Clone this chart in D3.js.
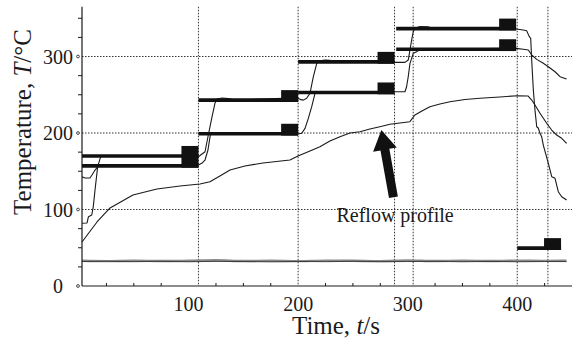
<!DOCTYPE html>
<html>
<head>
<meta charset="utf-8">
<script src="https://cdn.jsdelivr.net/npm/d3@7"></script>
<style>
  html, body { margin: 0; padding: 0; background: #fff; }
  svg { display: block; font-family: "Liberation Serif", "Times New Roman", serif; }
</style>
</head>
<body>
<div id="chart"></div>
<script>
// axis ticks and grid
const timeTicks = [100, 200, 300, 400];
const tempTicks = [0, 100, 200, 300];
const gridTimes = [109, 200, 288, 305, 400, 428];
const gridTemps = [100, 200, 300];

// set-point bars: start time, end time, temperature
const setStart = [2.7, 2.7, 109, 109, 200, 200, 289.5, 289.5, 400];
const setEnd   = [109, 109, 200, 200, 288, 288, 399, 399, 440];
const setTemp  = [170, 157, 243, 199, 293, 253, 336.5, 309.5, 49.5];

// sample that follows the upper set points [t, T]
const upperSample = [
  [2.7, 82], [7.3, 82.4], [8.6, 90.6], [11.6, 92.8], [13, 103.7], [14.6, 125.5], [17, 156],
  [20, 170], [60, 170], [108.9, 169], [115, 175.5], [118, 197.4], [121.1, 219], [124.1, 239],
  [126, 244.4], [130.5, 245.8], [136, 245], [142.4, 243.1], [199.6, 246], [201.7, 244],
  [204.7, 243], [207.8, 245.4], [210.8, 251.9], [213.9, 273.6], [217, 291], [220, 294.5],
  [224.5, 295.4], [229, 295], [233.6, 292.8], [287.5, 292.4], [297.5, 292.4], [300.5, 295.4],
  [302.1, 308.5], [303.6, 321.6], [305.1, 332.4], [306.6, 336.8], [311.2, 339.2], [318.5, 339],
  [323.1, 336.8], [398.9, 336], [405.5, 334.6], [408.6, 333.7], [411, 326], [412.3, 323.8],
  [413.2, 295.4], [414.7, 256.2], [416.2, 230], [417.8, 208.2], [419.2, 206.5], [420.8, 199.6],
  [422.3, 195.2], [423.8, 184.3], [428.4, 160.4], [431.5, 142.9], [434.5, 140.8], [437.5, 123.3],
  [440.6, 116.7], [445.1, 112.4]
];

// sample that follows the lower set points [t, T]
const lowerSample = [
  [2.7, 142.9], [5.4, 141.2], [10, 141.2], [11.8, 145.1], [14.6, 151.6], [17.6, 156.9],
  [108.9, 158.2], [112, 160.4], [115, 164.7], [117.7, 177.8], [119.1, 190.8], [120, 198.7],
  [199.6, 198.7], [203.3, 199.6], [206.3, 206.1], [209.3, 219.2], [212.4, 234.4], [215.4, 251.9],
  [217.2, 253.6], [289.3, 254], [297.5, 254], [299, 260.5], [300.5, 273.6], [302.1, 291.1],
  [305.1, 304.2], [308.2, 306.3], [311.2, 309.4], [398.9, 310.7], [405.5, 309.4], [410.1, 308.5],
  [413.2, 302], [417.8, 296.3], [423.8, 291.1], [428.4, 286.7], [434.5, 280.1], [439.1, 273.6],
  [445.1, 270.6]
];

// reflow profile [t, T]
const reflowProfile = [
  [2.7, 57.5], [16.4, 83.7], [28.3, 102], [49.2, 119], [71.1, 126.8], [92.2, 130.7],
  [110.4, 133.3], [119.5, 136.3], [128.6, 143.8], [137.8, 151.6], [151.4, 156.9], [167.9, 160.8],
  [192.5, 164.7], [199.9, 169.9], [210.8, 176.5], [219.9, 182.1], [229, 189.5], [238.2, 195.2],
  [247.3, 200], [256.4, 201.7], [265.5, 205.2], [274.6, 208.2], [283.8, 211.4], [292.9, 213.1],
  [302, 214.8], [306.6, 223.5], [313, 228.8], [320.3, 234.4], [329.4, 237.9], [338.6, 240.9],
  [352.3, 243.8], [366, 245.4], [384.2, 247.1], [399.8, 248.8], [409.8, 248.4], [413.2, 243.1],
  [416.2, 236.6], [420.8, 225.8], [426.9, 212.7], [431.4, 203.9], [436, 197.4], [440.6, 193.1],
  [445.1, 186.5]
];

// ambient readings
const ambientTimes = [2.7, 25, 50, 75, 100, 125, 150, 175, 200, 225, 250, 275, 300, 325, 350, 375, 400, 425, 445];
const ambientA = [33, 32.5, 33, 32.6, 33, 33.6, 32.6, 33, 32.5, 33.2, 33, 32.5, 33.4, 32.6, 33, 32.6, 33.2, 32.8, 33];
const ambientB = [32, 32.3, 31.8, 32.2, 31.7, 32.2, 32, 31.6, 32.1, 31.8, 32.3, 31.8, 32, 32.2, 31.7, 32.1, 31.7, 32, 31.9];

// annotation
const arrowTail = [287, 116];
const arrowTip = [276, 204];
const annotationAt = [235, 84];

const width = 573, height = 340;

const svg = d3.select("#chart")
  .append("svg")
  .attr("width", width)
  .attr("height", height);

const x = d3.scaleLinear().domain([2.7, 450]).range([82, 572]);
const y = d3.scaleLinear().domain([0, 365]).range([286, 6.8]);

const ink = "#1a1a1a";

// dotted grid
svg.append("g")
  .selectAll("line")
  .data(gridTemps)
  .join("line")
  .attr("x1", x(2.7)).attr("x2", x(450))
  .attr("y1", d => y(d)).attr("y2", d => y(d))
  .attr("stroke", "#333").attr("stroke-width", 1).attr("stroke-dasharray", "1.5,1.5");

svg.append("g")
  .selectAll("line")
  .data(gridTimes)
  .join("line")
  .attr("x1", d => x(d)).attr("x2", d => x(d))
  .attr("y1", y(365)).attr("y2", y(0))
  .attr("stroke", "#333").attr("stroke-width", 1).attr("stroke-dasharray", "1.5,1.5");

const line = d3.line().x(d => x(d[0])).y(d => y(d[1]));

// ambient lines
const ambLine = d3.line().x((d, i) => x(ambientTimes[i])).y(d => y(d)).curve(d3.curveMonotoneX);
svg.append("path").attr("d", ambLine(ambientA))
  .attr("fill", "none").attr("stroke", "#8a8a8a").attr("stroke-width", 2.4);
svg.append("path").attr("d", ambLine(ambientB))
  .attr("fill", "none").attr("stroke", "#333").attr("stroke-width", 0.9);

// measured curves
[reflowProfile, lowerSample, upperSample].forEach(series => {
  svg.append("path")
    .attr("d", line(series))
    .attr("fill", "none")
    .attr("stroke", ink)
    .attr("stroke-width", 1.1)
    .attr("stroke-linejoin", "round");
});

// set-point bars with end blocks
const barIdx = d3.range(setTemp.length);
svg.append("g")
  .selectAll("line")
  .data(barIdx)
  .join("line")
  .attr("x1", i => x(setStart[i])).attr("x2", i => x(setEnd[i]))
  .attr("y1", i => y(setTemp[i])).attr("y2", i => y(setTemp[i]))
  .attr("stroke", "#111").attr("stroke-width", 3.6);

svg.append("g")
  .selectAll("rect")
  .data(barIdx)
  .join("rect")
  .attr("x", i => x(setEnd[i]) - 17)
  .attr("y", i => y(setTemp[i]) - 10)
  .attr("width", 17)
  .attr("height", 11.8)
  .attr("fill", "#111");

// axes
svg.append("line")
  .attr("x1", x(2.7)).attr("x2", x(2.7)).attr("y1", y(365)).attr("y2", y(0))
  .attr("stroke", ink).attr("stroke-width", 1.2);
svg.append("line")
  .attr("x1", x(2.7)).attr("x2", x(450)).attr("y1", y(0)).attr("y2", y(0))
  .attr("stroke", ink).attr("stroke-width", 1.2);

svg.append("g")
  .selectAll("line")
  .data(d3.range(25, 365, 25).filter(v => v % 100 !== 0))
  .join("line")
  .attr("x1", x(2.7) - 4).attr("x2", x(2.7))
  .attr("y1", d => y(d)).attr("y2", d => y(d))
  .attr("stroke", ink).attr("stroke-width", 1);

svg.append("g")
  .selectAll("circle")
  .data(tempTicks)
  .join("circle")
  .attr("cx", x(2.7) - 4).attr("cy", d => y(d)).attr("r", 1.4)
  .attr("fill", "#fff").attr("stroke", ink).attr("stroke-width", 0.8);

svg.append("g")
  .selectAll("line")
  .data(d3.range(25, 450, 25).filter(v => v % 100 !== 0))
  .join("line")
  .attr("x1", d => x(d)).attr("x2", d => x(d))
  .attr("y1", y(0)).attr("y2", y(0) - 3)
  .attr("stroke", ink).attr("stroke-width", 1);

svg.append("g")
  .selectAll("text")
  .data(tempTicks)
  .join("text")
  .attr("x", 58).attr("y", d => y(d) + 7)
  .attr("text-anchor", "middle")
  .attr("font-size", 20)
  .attr("fill", ink)
  .text(d => d);

svg.append("g")
  .selectAll("text")
  .data(timeTicks)
  .join("text")
  .attr("x", d => x(d)).attr("y", 311)
  .attr("text-anchor", "middle")
  .attr("font-size", 20)
  .attr("fill", ink)
  .text(d => d);

// axis titles
const xTitle = svg.append("text")
  .attr("x", 336).attr("y", 334)
  .attr("text-anchor", "middle")
  .attr("font-size", 25)
  .attr("fill", ink);
xTitle.append("tspan").text("Time, ");
xTitle.append("tspan").attr("font-style", "italic").text("t");
xTitle.append("tspan").text("/s");

const yTitle = svg.append("text")
  .attr("transform", "translate(31,122) rotate(-90)")
  .attr("text-anchor", "middle")
  .attr("font-size", 25)
  .attr("fill", ink);
yTitle.append("tspan").text("Temperature, ");
yTitle.append("tspan").attr("font-style", "italic").text("T");
yTitle.append("tspan").text("/°C");

// annotation arrow
const tx = x(arrowTail[0]), ty = y(arrowTail[1]);
const hx = x(arrowTip[0]), hy = y(arrowTip[1]);
const len = Math.hypot(hx - tx, hy - ty);
const ux = (hx - tx) / len, uy = (hy - ty) / len;
const px = -uy, py = ux;
const shaftW = 4.5, headW = 12, headL = 20;
const bx = hx - ux * headL, by = hy - uy * headL;
const arrowPts = [
  [tx + px * shaftW, ty + py * shaftW],
  [bx + px * shaftW, by + py * shaftW],
  [bx + px * headW, by + py * headW],
  [hx, hy],
  [bx - px * headW, by - py * headW],
  [bx - px * shaftW, by - py * shaftW],
  [tx - px * shaftW, ty - py * shaftW]
];
svg.append("polygon")
  .attr("points", arrowPts.map(p => p.join(",")).join(" "))
  .attr("fill", "#111");

svg.append("text")
  .attr("x", x(annotationAt[0])).attr("y", y(annotationAt[1]))
  .attr("font-size", 20)
  .attr("fill", ink)
  .text("Reflow profile");
</script>
</body>
</html>
